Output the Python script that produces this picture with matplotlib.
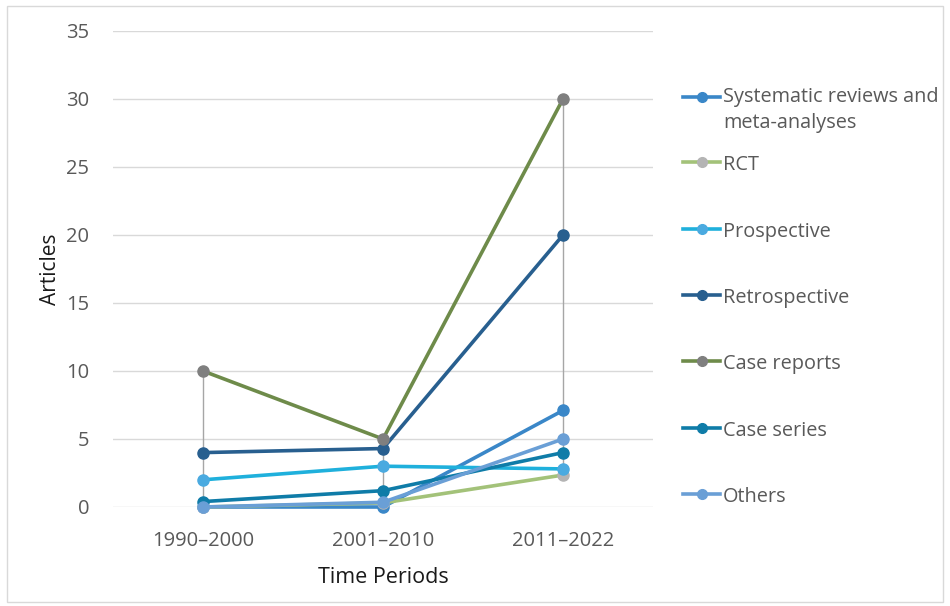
import matplotlib.pyplot as plt
from matplotlib.lines import Line2D
from matplotlib.patches import Rectangle
import numpy as np

plt.rcParams['font.family'] = ['Open Sans', 'DejaVu Sans']

periods = ["1990–2000", "2001–2010", "2011–2022"]
series_names = ["Systematic reviews and\nmeta-analyses", "RCT", "Prospective",
                "Retrospective", "Case reports", "Case series", "Others"]
systematic = [0, 0, 7.1]
rct = [0, 0.3, 2.35]
prospective = [2, 3, 2.8]
retrospective = [4, 4.3, 20]
case_reports = [10, 5, 30]
case_series = [0.4, 1.2, 4]
others = [0, 0.35, 5]

line_colors = ["#3A87C8", "#A3C279", "#1FB0DC", "#285F8F", "#6E8B4A", "#0F7CA8", "#6A9FD6"]
marker_colors = ["#3A87C8", "#B4B4B4", "#4AAAE0", "#285F8F", "#7F7F7F", "#0F7CA8", "#6A9FD6"]
all_series = [systematic, rct, prospective, retrospective, case_reports, case_series, others]

fig = plt.figure(figsize=(9.5, 6.06), dpi=100)
ax = fig.add_axes([113 / 950, 1 - 507 / 606, 540 / 950, 476 / 606])

x = np.arange(len(periods))
data = np.array(all_series)

# high-low lines at each period
ax.vlines(x, data.min(axis=0), data.max(axis=0), color="#A6A6A6", lw=1, zorder=1)

for vals, lc, mc in zip(all_series, line_colors, marker_colors):
    ax.plot(x, vals, color=lc, lw=2.6, marker="o", markersize=8,
            markerfacecolor=mc, markeredgecolor=mc, zorder=3, clip_on=False)

ax.set_xlim(-0.5, 2.5)
ax.set_ylim(0, 35)
ax.set_yticks(range(0, 36, 5))
ax.set_xticks(x)
ax.set_xticklabels(periods)
ax.grid(axis="y", color="#D9D9D9", lw=1)
ax.set_axisbelow(True)
for s in ax.spines.values():
    s.set_visible(False)
ax.tick_params(axis="both", length=0, labelsize=14.5, colors="#595959")
ax.tick_params(axis="y", pad=17)
ax.tick_params(axis="x", pad=17)
ax.set_ylabel("Articles", fontsize=15, color="#1a1a1a", labelpad=4)
ax.set_xlabel("Time Periods", fontsize=15.5, color="#1a1a1a", labelpad=12)

# legend drawn by hand on the right
leg_y = [97, 162, 229, 295, 361, 428, 494]
for name, lc, mc, yy in zip(series_names, line_colors, marker_colors, leg_y):
    fy = 1 - yy / 606
    fig.add_artist(Line2D([683 / 950, 720 / 950], [fy, fy], color=lc, lw=2.6,
                          transform=fig.transFigure))
    fig.add_artist(Line2D([701.5 / 950], [fy], marker="o", markersize=7,
                          color=mc, transform=fig.transFigure))
    if "\n" in name:
        fig.text(723 / 950, fy + 10 / 606, name, fontsize=14.3, color="#595959",
                 va="top", linespacing=1.4, transform=fig.transFigure)
    else:
        fig.text(723 / 950, fy - 3 / 606, name, fontsize=14.3, color="#595959",
                 va="center", transform=fig.transFigure)

fig.add_artist(Rectangle((7 / 950, 4 / 606), 936 / 950, 596 / 606, fill=False,
                         edgecolor="#D9D9D9", lw=1, transform=fig.transFigure))

fig.savefig("out.png", dpi=100)
